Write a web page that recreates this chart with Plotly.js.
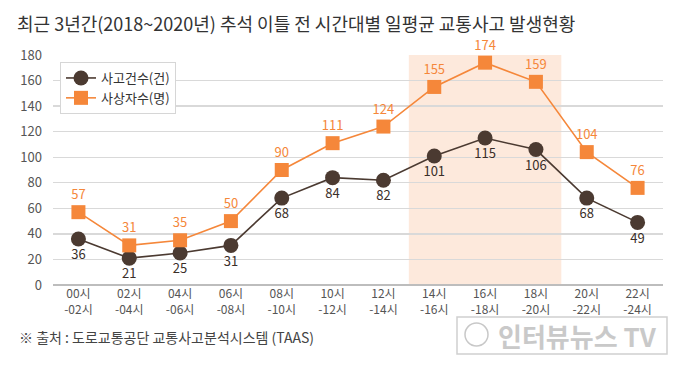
<!DOCTYPE html>
<html><head><meta charset="utf-8">
<script src="https://cdn.plot.ly/plotly-3.0.1.min.js"></script>
<style>body{margin:0;background:#fff}#c{width:680px;height:365px}</style>
</head><body><div id="c"></div>
<script>
const categories = ["00시<br>-02시","02시<br>-04시","04시<br>-06시","06시<br>-08시","08시<br>-10시","10시<br>-12시","12시<br>-14시","14시<br>-16시","16시<br>-18시","18시<br>-20시","20시<br>-22시","22시<br>-24시"];
const accidents = [36,21,25,31,68,84,82,101,115,106,68,49];
const casualties = [57,31,35,50,90,111,124,155,174,159,104,76];
const yTicks = [0,20,40,60,80,100,120,140,160,180];

const font = "'Noto Sans CJK KR', 'Noto Sans', sans-serif";
const brown = "#4b3a31", orange = "#f5873a";

const traces = [
  {x: categories, y: accidents, name: "사고건수(건)", type: "scatter", mode: "lines+markers+text",
   line: {color: brown, width: 1.6}, marker: {symbol: "circle", size: 15, color: brown},
   text: accidents.map(String), textposition: "bottom center",
   textfont: {family: font, size: 13, color: "#3a2e28"}, cliponaxis: false},
  {x: categories, y: casualties, name: "사상자수(명)", type: "scatter", mode: "lines+markers+text",
   line: {color: orange, width: 1.6}, marker: {symbol: "square", size: 14, color: orange},
   text: casualties.map(String), textposition: "top center",
   textfont: {family: font, size: 13, color: orange}, cliponaxis: false}
];

const layout = {
  width: 680, height: 365,
  margin: {l: 53, r: 17, t: 55, b: 80},
  paper_bgcolor: "#fff", plot_bgcolor: "#fff",
  font: {family: font, color: "#555"},
  title: {text: "최근 3년간(2018~2020년) 추석 이틀 전 시간대별 일평균 교통사고 발생현황",
          x: 17/680, xanchor: "left", xref: "container", y: 1-25/365, yanchor: "middle", yref: "container",
          font: {family: font, size: 18, color: "#333"}},
  xaxis: {type: "category", range: [-0.5, 11.5], showgrid: false, zeroline: false,
          showline: false, ticks: "", tickfont: {family: font, size: 12, color: "#555"}, fixedrange: true},
  yaxis: {range: [0, 180], tickvals: yTicks, showgrid: true, gridcolor: "#d9d9d9", gridwidth: 1.3,
          zeroline: true, zerolinecolor: "#bdbdbd", zerolinewidth: 1.5, showline: false, ticks: "",
          ticklabelstandoff: 10, tickfont: {family: font, size: 13, color: "#555"}},
  shapes: [
    {type: "rect", xref: "x", yref: "y", x0: 6.5, x1: 9.5, y0: 0, y1: 180,
     fillcolor: "#fde9dc", line: {width: 0}, layer: "below"},
    {type: "rect", xref: "paper", yref: "paper", x0: (457-53)/610, x1: (667-53)/610,
     y0: (285-354)/230, y1: (285-317)/230, fillcolor: "#fff", line: {color: "#d0d0d0", width: 1.5}},
    {type: "circle", xref: "paper", yref: "paper", x0: (465-53)/610, x1: (488-53)/610,
     y0: (285-346)/230, y1: (285-323)/230, fillcolor: "rgba(0,0,0,0)", line: {color: "#c8c8c8", width: 1.5}}
  ],
  legend: {x: 7/610, y: (285-62)/230, xanchor: "left", yanchor: "top", bgcolor: "#fff",
           bordercolor: "#d6d6d6", borderwidth: 1, font: {family: font, size: 13, color: "#333"},
           tracegroupgap: 0, itemwidth: 30},
  annotations: [
    {text: "※ 출처 : 도로교통공단 교통사고분석시스템 (TAAS)", xref: "paper", yref: "paper",
     x: (17-53)/610, y: (285-337)/230, xanchor: "left", yanchor: "middle", showarrow: false,
     font: {family: font, size: 14, color: "#444"}},
    {text: "<b>인터뷰뉴스 TV</b>", xref: "paper", yref: "paper",
     x: (577-53)/610, y: (285-335)/230, xanchor: "center", yanchor: "middle", showarrow: false,
     font: {family: font, size: 26, color: "#c9c9c9"}}
  ]
};
Plotly.newPlot("c", traces, layout, {displayModeBar: false, staticPlot: true});
</script></body></html>
